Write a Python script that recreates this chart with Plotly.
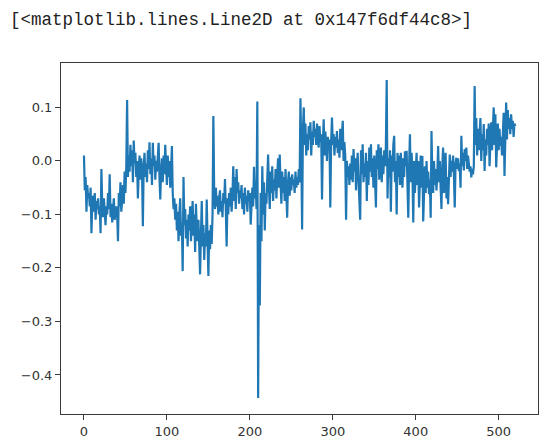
import plotly.graph_objects as go

values = [
    0.010, -0.055, -0.030, -0.095, -0.045, -0.070, -0.060, -0.085, -0.050, -0.135,
    -0.080, -0.065, -0.095, -0.060, -0.110, -0.075, -0.090, -0.070, -0.100, -0.085,
    -0.135, -0.015, -0.080, -0.105, -0.070, -0.095, -0.120, -0.085, -0.100, -0.060,
    -0.090, -0.025, -0.105, -0.080, -0.115, -0.095, -0.070, -0.110, -0.090, -0.085,
    -0.100, -0.150, -0.060, -0.085, -0.040, -0.095, -0.075, -0.045, -0.080, -0.020,
    -0.060, -0.010, 0.114, -0.030, 0.010, -0.020, 0.030, -0.010, 0.020, -0.040,
    0.038, -0.005, 0.015, -0.030, 0.000, -0.070, -0.020, 0.010, -0.035, 0.005,
    -0.020, -0.122, -0.010, 0.015, -0.030, -0.005, -0.040, 0.020, -0.015, 0.035,
    -0.025, 0.005, -0.045, 0.034, -0.010, 0.010, -0.035, 0.000, -0.020, 0.015,
    0.034, -0.030, -0.072, -0.015, 0.005, -0.040, 0.010, -0.025, 0.030, -0.010,
    -0.045, 0.010, -0.030, 0.000, -0.050, -0.020, 0.028, -0.060, -0.090, -0.070,
    -0.110, -0.080, -0.130, -0.095, -0.150, -0.100, -0.070, -0.140, -0.115, -0.206,
    -0.030, -0.120, -0.090, -0.145, -0.110, -0.160, -0.100, -0.130, -0.085, -0.150,
    -0.120, -0.075, -0.140, -0.100, -0.170, -0.080, -0.130, -0.150, -0.110, -0.180,
    -0.212, -0.140, -0.075, -0.160, -0.120, -0.185, -0.135, -0.160, -0.072, -0.150,
    -0.215, -0.130, -0.165, -0.120, -0.155, -0.100, 0.084, -0.060, -0.090, -0.050,
    -0.085, -0.065, -0.100, -0.070, -0.055, -0.095, -0.075, -0.105, -0.060, -0.080,
    -0.034, -0.090, -0.160, -0.070, -0.100, -0.060, -0.085, -0.050, -0.095, -0.065,
    -0.010, -0.075, -0.030, -0.090, -0.015, -0.060, -0.040, -0.080, -0.055, -0.070,
    -0.045, -0.090, -0.060, -0.100, -0.050, -0.080, -0.065, -0.095, -0.055, -0.075,
    -0.060, -0.119, -0.070, -0.050, -0.085, -0.011, -0.070, -0.040, -0.090, 0.111,
    -0.443, -0.120, -0.270, -0.060, -0.150, -0.010, -0.100, -0.040, -0.130, -0.060,
    -0.080, -0.030, 0.012, -0.050, -0.090, -0.020, -0.060, -0.010, -0.075, -0.035,
    -0.055, -0.015, -0.070, -0.030, 0.005, -0.050, 0.012, -0.040, -0.080, -0.020,
    -0.060, -0.030, -0.075, -0.015, -0.050, -0.106, -0.040, -0.020, -0.065, -0.030,
    -0.055, -0.025, -0.045, -0.035, -0.060, -0.020, -0.050, -0.030, -0.045, -0.015,
    -0.040, 0.117, 0.020, -0.128, 0.060, 0.100, 0.030, 0.070, 0.010, 0.050,
    0.020, 0.065, 0.040, 0.072, 0.010, 0.055, 0.030, 0.075, 0.045, 0.060,
    0.030, 0.070, 0.040, 0.025, 0.065, 0.035, 0.050, -0.072, 0.030, 0.078,
    0.010, 0.055, 0.030, 0.000, 0.045, 0.020, 0.040, -0.087, 0.035, 0.081,
    0.030, 0.050, 0.010, 0.045, 0.025, 0.056, 0.015, 0.040, 0.006, 0.060,
    0.020, 0.045, 0.075, 0.000, 0.035, 0.010, -0.110, 0.000, -0.030, -0.010,
    -0.045, -0.005, -0.035, 0.010, -0.040, 0.022, -0.020, 0.005, -0.055, -0.010,
    0.015, -0.035, -0.062, -0.110, 0.020, -0.025, 0.031, -0.040, -0.005, -0.030,
    0.015, -0.075, 0.000, -0.045, 0.025, -0.020, 0.031, -0.030, 0.005, -0.050,
    0.010, -0.025, -0.087, 0.020, -0.015, 0.031, -0.035, 0.000, 0.025, -0.040,
    0.010, -0.025, 0.020, -0.010, 0.028, 0.151, -0.070, 0.005, -0.030, 0.020,
    -0.095, 0.010, -0.020, 0.030, 0.047, -0.040, 0.000, -0.100, 0.015, -0.030,
    0.010, -0.045, 0.015, -0.020, -0.050, 0.005, -0.030, 0.018, -0.010, 0.019,
    -0.035, -0.106, -0.010, 0.050, -0.040, 0.015, -0.020, -0.115, 0.000, -0.060,
    -0.020, 0.015, -0.045, 0.000, -0.087, -0.030, 0.010, -0.050, 0.009, -0.113,
    -0.040, -0.010, -0.060, 0.000, -0.050, -0.020, -0.062, -0.035, -0.106, 0.056,
    -0.030, -0.060, 0.000, -0.045, -0.015, -0.055, -0.025, 0.028, -0.040, 0.000,
    -0.050, -0.090, -0.010, 0.025, -0.060, -0.020, 0.015, -0.070, -0.030, -0.081,
    -0.010, 0.012, -0.030, 0.000, -0.020, 0.010, -0.025, -0.087, -0.005, 0.006,
    -0.015, 0.005, -0.019, -0.005, -0.050, 0.047, -0.010, 0.015, -0.018, 0.022,
    0.000, 0.025, -0.015, 0.010, -0.005, -0.020, -0.010, -0.031, -0.015, -0.025,
    -0.010, 0.140, 0.030, 0.080, 0.010, 0.060, 0.020, 0.050, 0.080, 0.000,
    0.050, 0.020, 0.069, -0.019, 0.040, 0.010, 0.060, 0.030, 0.070, -0.010,
    0.040, 0.072, 0.020, 0.055, 0.100, 0.030, 0.087, -0.012, 0.050, 0.070,
    0.020, 0.060, 0.028, 0.045, 0.010, 0.070, 0.090, -0.028, 0.060, 0.109,
    0.040, 0.095, 0.060, 0.080, 0.050, 0.087, 0.060, 0.075, 0.045, 0.070, 0.065,
]
index = list(range(len(values)))

x_tick_vals = [0, 100, 200, 300, 400, 500]
x_tick_text = ["0", "100", "200", "300", "400", "500"]
y_tick_vals = [0.1, 0.0, -0.1, -0.2, -0.3, -0.4]
y_tick_text = ["0.1", "0.0", "\u22120.1", "\u22120.2", "\u22120.3", "\u22120.4"]
header = "[<matplotlib.lines.Line2D at 0x147f6df44c8>]"

fig = go.Figure()
fig.add_trace(go.Scatter(x=index, y=values, mode="lines",
                         line=dict(color="#1f77b4", width=2.2)))

axis_common = dict(showgrid=False, zeroline=False, showline=True, mirror=True,
                   linecolor="#3a3a3a", linewidth=1, ticks="outside", ticklen=5,
                   tickcolor="#3a3a3a", tickwidth=1, automargin=False,
                   tickfont=dict(family="DejaVu Sans", size=13, color="#333333"))

fig.update_layout(
    width=550, height=446,
    margin=dict(l=61, r=12, t=63, b=32),
    paper_bgcolor="white", plot_bgcolor="white",
    showlegend=False,
    xaxis=dict(range=[-27.7, 547.4], tickvals=x_tick_vals, ticktext=x_tick_text, **axis_common),
    yaxis=dict(range=[-0.473, 0.183], tickvals=y_tick_vals, ticktext=y_tick_text, **axis_common),
    annotations=[dict(text=header, xref="paper", yref="paper",
                      x=-0.111, y=1.1225, xanchor="left", yanchor="middle",
                      showarrow=False,
                      font=dict(family="Liberation Mono", size=17.5, color="#222222"))],
)

fig.write_html("out.html", config={"displayModeBar": False},
               post_script="document.body.style.margin='0';document.body.style.overflow='hidden';")
